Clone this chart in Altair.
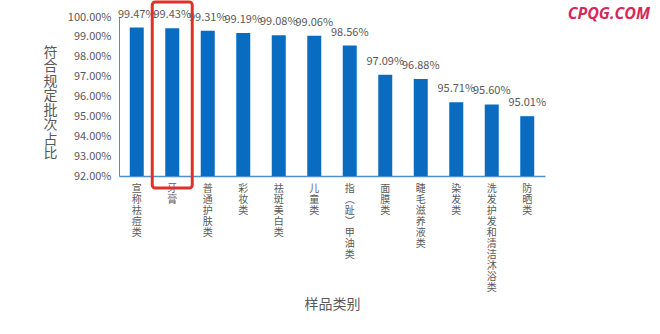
import altair as alt
import pandas as pd

categories = ["宣称祛痘类", "牙膏", "普通护肤类", "彩妆类", "祛斑美白类", "儿童类",
              "指（趾）甲油类", "面膜类", "睫毛滋养液类", "染发类", "洗发护发和清洁沐浴类", "防晒类"]
values = [0.9947, 0.9943, 0.9931, 0.9919, 0.9908, 0.9906,
          0.9856, 0.9709, 0.9688, 0.9571, 0.9560, 0.9501]
y_ticks = [0.92, 0.93, 0.94, 0.95, 0.96, 0.97, 0.98, 0.99, 1.0]
highlight = ["牙膏"]

df = pd.DataFrame({"cat": categories, "val": values})
hl = pd.DataFrame({"cat": highlight})

FONT = "Noto Sans CJK SC"
GRAY = "#595959"
W, H = 426, 159

xaxis = alt.Axis(
    title="样品类别", titleFont=FONT, titleFontSize=14, titleFontWeight="normal",
    titleColor=GRAY, titleY=121, titleBaseline="top",
    labelAngle=0, labelBaseline="top", labelAlign="center", labelPadding=7,
    labelFont=FONT, labelFontSize=10, labelLineHeight=11, labelColor=GRAY,
    labelLimit=400, labelOverlap=False,
    labelExpr="split(replace(replace(datum.label,'（','︵'),'）','︶'),'')",
    ticks=False, domainColor="#4f8fcf", domainWidth=1.5)

yaxis = alt.Axis(
    title=list("符合规定批次占比"), titleAngle=0, titleFont=FONT, titleFontSize=14,
    titleFontWeight="normal", titleColor=GRAY, titleLineHeight=14.5,
    titleX=-69, titleY=28, titleAlign="center", titleBaseline="top",
    format=".2%", values=y_ticks,
    labelFont=FONT, labelFontSize=11, labelColor=GRAY, labelPadding=8,
    labelOverlap=False, labelBaseline="middle",
    ticks=False, grid=False, domainColor="#4f8fcf", domainWidth=1)

xscale = alt.Scale(paddingInner=0.6, paddingOuter=0.3)
yscale = alt.Scale(domain=[0.92, 1.0], zero=False, nice=False)

X = alt.X("cat:N", sort=categories, scale=xscale, axis=xaxis)
Y = alt.Y("val:Q", scale=yscale, axis=yaxis)

bars = alt.Chart(df).mark_bar(color="#0a6cc0", size=14, clip=False).encode(
    x=X, y=Y, y2=alt.datum(0.92),
)

labels = alt.Chart(df).mark_text(font=FONT, fontSize=11, color=GRAY, dy=-8, baseline="bottom").encode(
    x=X, y=Y,
    text=alt.Text("val:Q", format=".2%"),
)

box = alt.Chart(hl).mark_bar(filled=False, fill=None, stroke="#e0302a", strokeWidth=3,
                             cornerRadius=3, size=40, clip=False).encode(
    x=X,
    y=alt.value(-15),
    y2=alt.value(H + 12),
)

watermark = alt.Chart(hl).mark_text(text="CPQG.COM", font="Open Sans", fontSize=16,
                                    fontStyle="italic", fontWeight="bold", color="#d6285a",
                                    align="right", baseline="middle").encode(
    x=alt.value(531), y=alt.value(-3),
)

chart = alt.layer(bars, labels, box, watermark).properties(
    width=W, height=H,
    autosize=alt.AutoSizeParams(type="none"),
    padding={"left": 119, "top": 17, "right": 115, "bottom": 158},
    background="white",
).configure_view(stroke=None)

chart.save("out.html", embed_options={"renderer": "svg", "actions": False})
